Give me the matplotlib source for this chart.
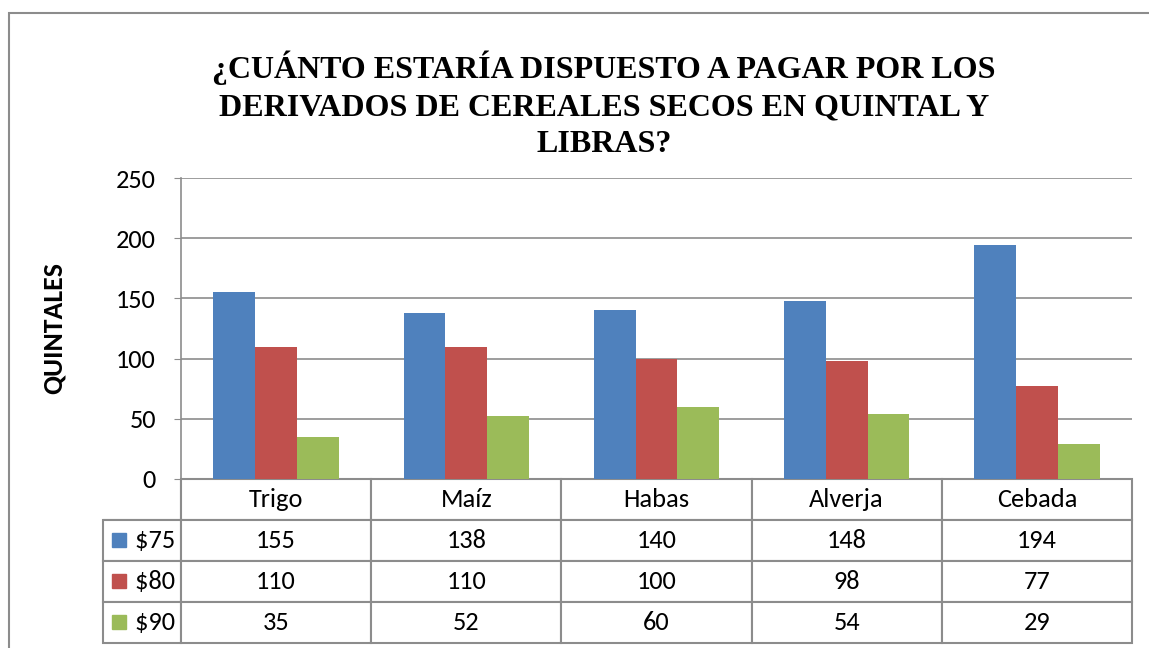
import matplotlib.pyplot as plt
from matplotlib.patches import Rectangle

# datos
cereales = ["Trigo", "Maíz", "Habas", "Alverja", "Cebada"]
precios = ["$75", "$80", "$90"]
q75 = [155, 138, 140, 148, 194]
q80 = [110, 110, 100, 98, 77]
q90 = [35, 52, 60, 54, 29]
colores = ["#4F81BD", "#C0504D", "#9BBB59"]
titulo = "¿CUÁNTO ESTARÍA DISPUESTO A PAGAR POR LOS\nDERIVADOS DE CEREALES SECOS EN QUINTAL Y\nLIBRAS?"

plt.rcParams['font.family'] = ['Carlito', 'Lato', 'DejaVu Sans']

fig = plt.figure(figsize=(11.49, 6.48), dpi=100)
W, H = 1149, 648
ax = fig.add_axes([181 / W, 1 - 479 / H, 951 / W, 301 / H])

# marco exterior
fig.patches.append(Rectangle((9 / W, -0.05), 1.2, 1 - 13 / H + 0.05, transform=fig.transFigure,
                             fill=False, edgecolor="#8c8c8c", linewidth=1.5))

series = [q75, q80, q90]
ancho = 0.22
x = range(len(cereales))
for i, (vals, col) in enumerate(zip(series, colores)):
    ax.bar([k + (i - 1) * ancho for k in x], vals, width=ancho, color=col, zorder=3)

ax.set_xlim(-0.5, len(cereales) - 0.5)
ax.set_ylim(0, 250)
ax.set_yticks(range(0, 251, 50))
ax.yaxis.grid(True, color="#8c8c8c", linewidth=1.2, zorder=0)
ax.set_xticks([])
for s in ["top", "right", "bottom"]:
    ax.spines[s].set_visible(False)
ax.spines["left"].set_color("#8c8c8c")
ax.spines["left"].set_linewidth(1.2)
ax.tick_params(axis="y", labelsize=19, length=5, color="#8c8c8c", pad=13)
ax.set_ylabel("QUINTALES", fontsize=20, fontweight="bold", labelpad=36)

fig.text(604 / W, 1 - 105 / H, titulo, ha="center", va="center", fontsize=23,
         fontweight="bold", family="Liberation Serif", linespacing=1.36)

# tabla de datos
celdas = [[""] + cereales]
for p, vals in zip(precios, series):
    celdas.append(["    " + p.replace("$", "\\$")] + [str(v) for v in vals])
anchos = [78 / 1029] + [190.2 / 1029] * 5
tabla = ax.table(cellText=celdas, colWidths=anchos, cellLoc="center",
                 bbox=[-78 / 951, -164 / 301, 1029 / 951, 164 / 301])
tabla.auto_set_font_size(False)
tabla.set_fontsize(19)
for (r, c), cell in tabla.get_celld().items():
    cell.set_edgecolor("#8c8c8c")
    cell.set_linewidth(1.5)
    if r == 0 and c == 0:
        cell.visible_edges = "BR"
    if c == 0 and r > 0:
        cell._loc = "left"
        cell.get_text().set_ha("left")

# cuadritos de leyenda
for i, col in enumerate(colores):
    yc = 539.5 + i * 41.3
    ax.add_patch(Rectangle(((112 - 181) / 951, (479 - yc - 7) / 301), 14 / 951, 14 / 301,
                           transform=ax.transAxes, color=col, clip_on=False))

fig.savefig("out.png", dpi=100)
